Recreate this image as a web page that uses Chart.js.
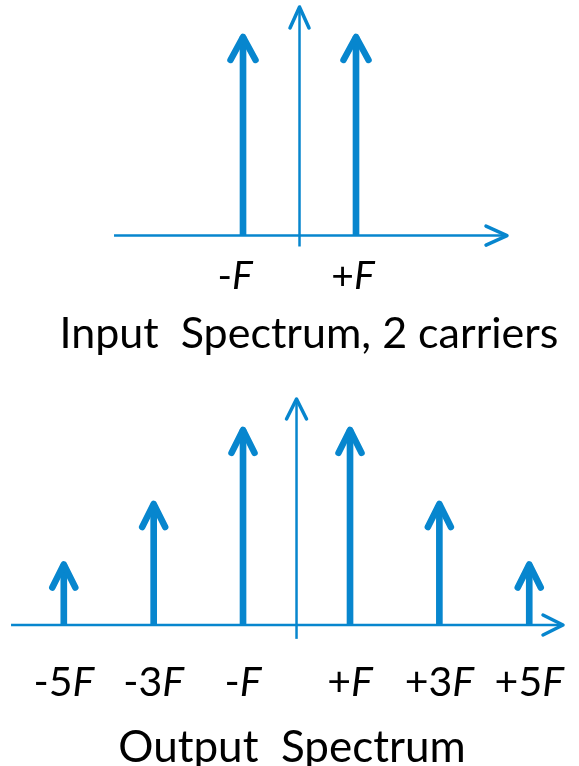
<!DOCTYPE html>
<html><head><meta charset="utf-8">
<script src="https://cdn.jsdelivr.net/npm/chart.js@4.4.1/dist/chart.umd.min.js"></script>
<style>
html,body{margin:0;padding:0;background:#fff;overflow:hidden;width:579px;height:766px}
.wrap{position:absolute;left:0;width:579px;height:383px}
#wrap1{top:0}
#wrap2{top:383px}
</style></head><body>
<div class="wrap" id="wrap1"><canvas id="c1"></canvas></div>
<div class="wrap" id="wrap2"><canvas id="c2"></canvas></div>
<script>
// ---- data ----
const inputLabels = ['-F', '+F'];
const inputPositions = [-1, 1];          // in units of F spacing
const inputAmplitudes = [1, 1];
const outputLabels = ['-5F', '-3F', '-F', '+F', '+3F', '+5F'];
const outputPositions = [-4.35, -2.67, -1, 1, 2.67, 4.35];
const outputAmplitudes = [0.31, 0.62, 1, 1, 0.62, 0.31];
const inputTitle = 'Input  Spectrum, 2 carriers';
const outputTitle = 'Output  Spectrum';

// ---- style ----
const COLOR = '#0786CE';
const FONT = 'Lato, "Liberation Sans", Arial, sans-serif';

const arrowPlugin = {
  id: 'spectrumArrows',
  afterDatasetsDraw(chart, args, o) {
    const ctx = chart.ctx;
    const xs = chart.scales.x, ys = chart.scales.y;
    const y0 = ys.getPixelForValue(0);
    const x0 = xs.getPixelForValue(0);
    ctx.save();
    ctx.strokeStyle = COLOR;
    ctx.lineJoin = 'round';
    // horizontal axis
    ctx.lineWidth = o.axisWidth;
    ctx.lineCap = 'butt';
    const xa = xs.getPixelForValue(o.xAxisFrom), xb = xs.getPixelForValue(o.xAxisTo);
    ctx.beginPath(); ctx.moveTo(xa, y0); ctx.lineTo(xb - 1, y0); ctx.stroke();
    // vertical axis
    const yb = ys.getPixelForValue(o.yAxisFrom), yt = ys.getPixelForValue(o.yAxisTo);
    ctx.beginPath(); ctx.moveTo(x0, yb); ctx.lineTo(x0, yt + 1); ctx.stroke();
    // axis heads
    ctx.lineCap = 'round';
    ctx.lineWidth = o.axisHeadWidth;
    ctx.beginPath();
    ctx.moveTo(xb - o.axisHeadLen, y0 - o.axisHeadHalf); ctx.lineTo(xb, y0); ctx.lineTo(xb - o.axisHeadLen, y0 + o.axisHeadHalf);
    ctx.stroke();
    ctx.beginPath();
    ctx.moveTo(x0 - o.axisHeadHalf, yt + o.axisHeadLen); ctx.lineTo(x0, yt); ctx.lineTo(x0 + o.axisHeadHalf, yt + o.axisHeadLen);
    ctx.stroke();
    // stem heads
    ctx.lineWidth = o.headWidth;
    const meta = chart.getDatasetMeta(0);
    meta.data.forEach(el => {
      ctx.beginPath();
      ctx.moveTo(el.x - o.headHalf, el.y + o.headLen); ctx.lineTo(el.x, el.y); ctx.lineTo(el.x + o.headHalf, el.y + o.headLen);
      ctx.stroke();
    });
    // frequency labels
    ctx.fillStyle = '#000';
    ctx.textBaseline = 'alphabetic';
    ctx.textAlign = 'left';
    const fN = o.labelSize + 'px ' + FONT;
    const fI = 'italic ' + o.labelSize + 'px ' + FONT;
    o.labels.forEach((lab, i) => {
      const el = meta.data[i];
      const pre = lab.slice(0, -1), last = lab.slice(-1);
      ctx.font = fN; const w1 = ctx.measureText(pre).width;
      ctx.font = fI; const w2 = ctx.measureText(last).width;
      const left = el.x - (w1 + w2) / 2 + (o.labelShift ? o.labelShift[i] : 0);
      const by = y0 + o.labelOffset;
      ctx.font = fN; ctx.fillText(pre, left, by);
      ctx.font = fI; ctx.fillText(last, left + w1, by);
    });
    ctx.restore();
  }
};

function makeChart(id, positions, amps, labels, title, cfg) {
  return new Chart(document.getElementById(id), {
    type: 'bar',
    data: {
      datasets: [{
        data: positions.map((x, i) => ({ x: x, y: amps[i] })),
        backgroundColor: COLOR,
        borderWidth: 0,
        barThickness: cfg.stemWidth
      }]
    },
    options: {
      responsive: true,
      maintainAspectRatio: false,
      animation: false,
      layout: { padding: { left: cfg.padLeft, right: 0, top: 0, bottom: 0 } },
      plugins: {
        legend: { display: false },
        tooltip: { enabled: false },
        title: {
          display: true, position: 'bottom', text: title, color: '#000',
          font: { family: FONT, size: cfg.titleSize, weight: 'normal', lineHeight: 0.8 },
          padding: { top: 0, bottom: cfg.titlePadBottom }
        },
        spectrumArrows: Object.assign({ labels: labels }, cfg.arrows)
      },
      scales: {
        x: { type: 'linear', display: false, min: cfg.xMin, max: cfg.xMax, offset: false },
        y: { display: false, min: cfg.yMin, max: cfg.yMax }
      }
    },
    plugins: [arrowPlugin]
  });
}

makeChart('c1', inputPositions, inputAmplitudes, inputLabels, inputTitle, {
  stemWidth: 6, padLeft: 39, titlePadBottom: 32, titleSize: 43,
  xMin: -4.611, xMax: 4.947, yMin: -0.408, yMax: 1.186,
  arrows: {
    xAxisFrom: -3.283, xAxisTo: 3.673, yAxisFrom: -0.055, yAxisTo: 1.151,
    axisWidth: 2.5, axisHeadWidth: 3.5, axisHeadLen: 21, axisHeadHalf: 9.5,
    headWidth: 6.5, headLen: 23, headHalf: 12.5,
    labelSize: 39, labelOffset: 53, labelShift: [-8, -3]
  }
});

makeChart('c2', outputPositions, outputAmplitudes, outputLabels, outputTitle, {
  stemWidth: 6, padLeft: 5, titlePadBottom: 1, titleSize: 44,
  xMin: -5.449, xMax: 5.280, yMin: -0.537, yMax: 1.240,
  arrows: {
    xAxisFrom: -5.336, xAxisTo: 4.981, yAxisFrom: -0.071, yAxisTo: 1.158,
    axisWidth: 2.5, axisHeadWidth: 3.5, axisHeadLen: 20, axisHeadHalf: 10,
    headWidth: 6.5, headLen: 23, headHalf: 11.5,
    labelSize: 41, labelOffset: 71
  }
});
</script>
</body></html>
